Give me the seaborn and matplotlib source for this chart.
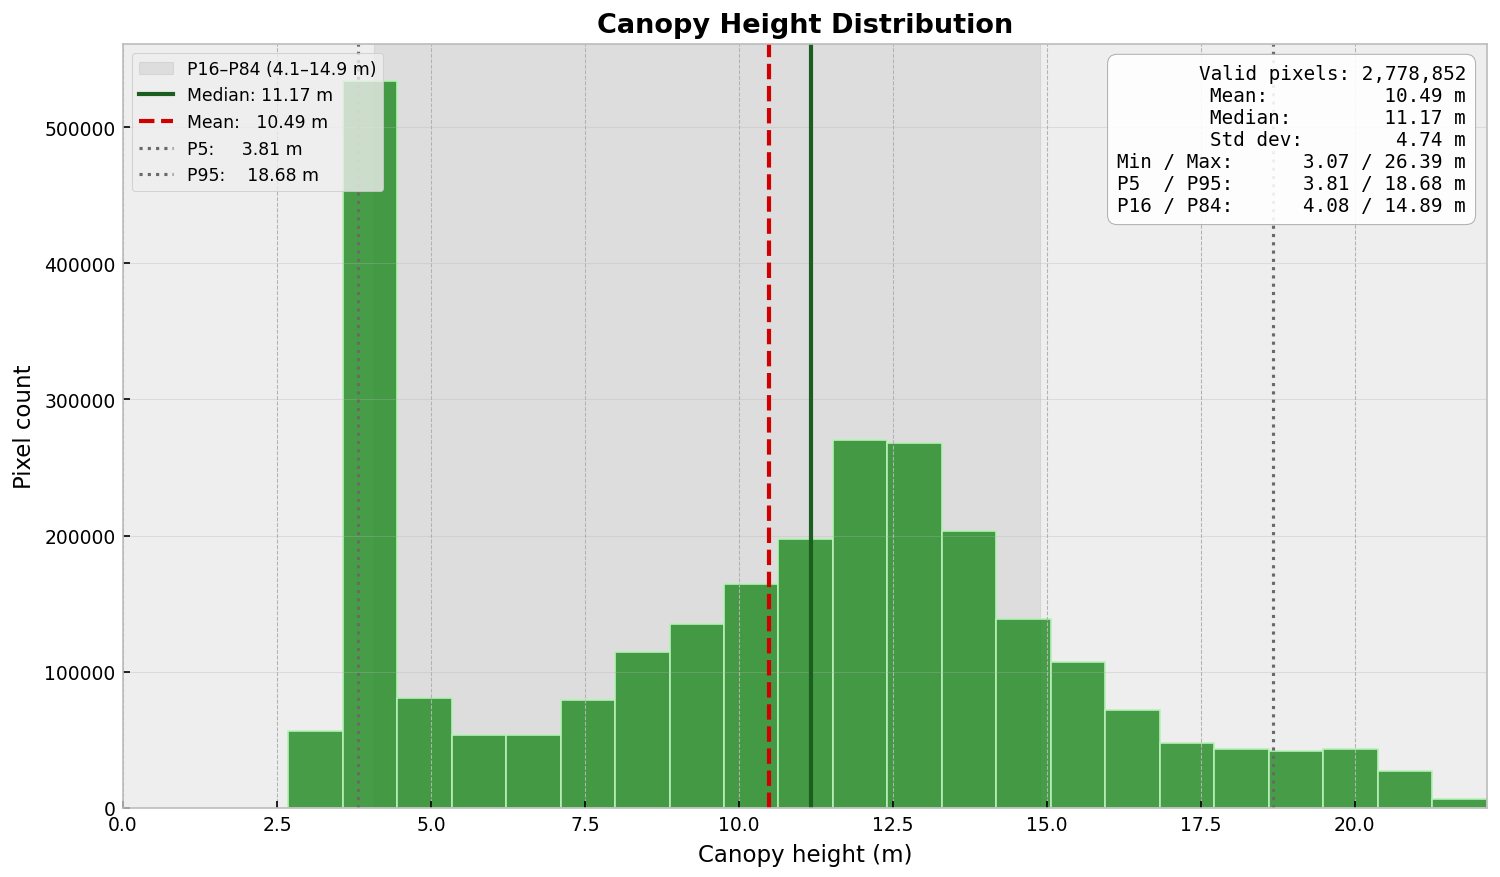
import matplotlib
matplotlib.use("Agg")
import matplotlib.pyplot as plt
import numpy as np
import seaborn as sns

# histogram (bin edges in m, pixel counts per bin)
bin_edges = [2.68, 3.565, 4.45, 5.335, 6.22, 7.105, 7.99, 8.875, 9.76, 10.645,
             11.53, 12.415, 13.30, 14.185, 15.07, 15.955, 16.84, 17.725, 18.61,
             19.495, 20.38, 21.265, 22.15]
bin_counts = [56600, 533800, 80900, 53700, 53700, 79400, 114700, 135300, 164700,
              197800, 269900, 267700, 203700, 139000, 107400, 72100, 47800,
              43400, 41900, 43400, 27200, 6600]

# summary stats
mean_h = 10.49
median_h = 11.17
p5, p95 = 3.81, 18.68
p16, p84 = 4.08, 14.89

stats_lines = [
    "Valid pixels: 2,778,852",
    "Mean:          10.49 m",
    "Median:        11.17 m",
    "Std dev:        4.74 m",
    "Min / Max:      3.07 / 26.39 m",
    "P5  / P95:      3.81 / 18.68 m",
    "P16 / P84:      4.08 / 14.89 m",
]

plt.style.use("bmh")
fig, ax = plt.subplots(figsize=(10, 5.853), dpi=150)
fig.subplots_adjust(left=0.082, right=0.9913, top=0.9487, bottom=0.0786)

centers = [(a + b) / 2 for a, b in zip(bin_edges[:-1], bin_edges[1:])]

# percentile band
ax.axvspan(p16, p84, color="gray", alpha=0.15, zorder=0,
           label=f"P16\u2013P84 ({p16:.1f}\u2013{p84:.1f} m)")

sns.histplot(x=centers, weights=bin_counts, bins=bin_edges, ax=ax,
             color="forestgreen", alpha=0.82, edgecolor="#b8f0b8",
             linewidth=0.8)

ax.axvline(median_h, color="#1b5e20", lw=2, label=f"Median: {median_h:.2f} m")
ax.axvline(mean_h, color="#d00000", lw=2, ls="--", label=f"Mean:   {mean_h:.2f} m")
ax.axvline(p5, color="dimgray", lw=1.5, ls=":", label=f"P5:     {p5:.2f} m")
ax.axvline(p95, color="dimgray", lw=1.5, ls=":", label=f"P95:    {p95:.2f} m")

ax.set_xlim(0, bin_edges[-1])
ax.set_ylim(0, 561000)
ax.grid(axis="y", linestyle="-", alpha=0.3)
ax.tick_params(labelsize=9)

ax.set_title("Canopy Height Distribution", fontsize=13, fontweight="bold")
ax.set_xlabel("Canopy height (m)", fontsize=11)
ax.set_ylabel("Pixel count", fontsize=11)

ax.legend(loc="upper left", fontsize=8.3)

ax.text(0.9846, 0.974, "\n".join(stats_lines), transform=ax.transAxes,
        ha="right", va="top", family="DejaVu Sans Mono", fontsize=9.25,
        bbox=dict(boxstyle="round,pad=0.5", facecolor="white", edgecolor="#aaaaaa", alpha=0.9))

plt.savefig("out.png", dpi=150)
